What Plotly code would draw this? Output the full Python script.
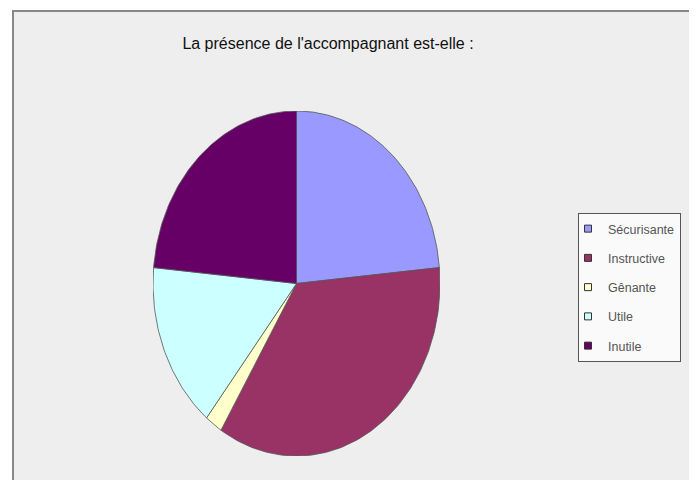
import numpy as np
import plotly.graph_objects as go

# ---- data ----
categories = ["Sécurisante", "Instructive", "Gênante", "Utile", "Inutile"]
counts = [12, 18, 1, 8, 12]
colors = ["#9999FF", "#993366", "#FFFFCC", "#CCFFFF", "#660066"]
title_text = "La présence de l'accompagnant est-elle :"

# page body has an 8px margin; figure is placed at (8, 8)
OFF = 8
W, H = 697 - OFF, 480 - OFF


def px(x):
    return (x - OFF) / W


def py(y):
    return 1 - (y - OFF) / H


fig = go.Figure()

total = float(sum(counts))
cum = np.concatenate([[0.0], np.cumsum(counts)]) / total
for i, (name, col) in enumerate(zip(categories, colors)):
    a0, a1 = cum[i] * 2 * np.pi, cum[i + 1] * 2 * np.pi
    th = np.linspace(a0, a1, max(3, int((a1 - a0) / (2 * np.pi) * 360)))
    xs = np.concatenate([[0.0], np.sin(th), [0.0]])
    ys = np.concatenate([[0.0], np.cos(th), [0.0]])
    fig.add_trace(go.Scatter(
        x=xs, y=ys, mode="lines", fill="toself", fillcolor=col,
        line=dict(color="#555555", width=0.8), showlegend=False,
        hoverinfo="text", text=f"{name}: {counts[i]}"))
    fig.add_trace(go.Scatter(
        x=[None], y=[None], mode="markers", name=name,
        legendgroup=name,
        marker=dict(symbol="square", size=7, color=col,
                    line=dict(color="#333333", width=1))))

fig.update_layout(
    width=W, height=H,
    margin=dict(l=0, r=0, t=0, b=0),
    paper_bgcolor="white",
    plot_bgcolor="rgba(0,0,0,0)",
    xaxis=dict(domain=[px(153), px(440)], range=[-1, 1], visible=False, fixedrange=True),
    yaxis=dict(domain=[py(456), py(111)], range=[-1, 1], visible=False, fixedrange=True),
    title=dict(text=title_text, x=px(328), xanchor="center", y=py(43), yanchor="middle",
               yref="container", xref="container",
               font=dict(family="Liberation Sans", size=16, color="#111111")),
    legend=dict(x=px(578), y=py(213), xanchor="left", yanchor="top",
                bgcolor="#FAFAFA", bordercolor="#555555", borderwidth=1,
                font=dict(family="Liberation Sans", size=12.5, color="#555555"),
                tracegroupgap=10, itemwidth=30, traceorder="grouped",
                indentation=-11),
    shapes=[dict(type="rect", xref="paper", yref="paper",
                 x0=px(13), x1=px(693), y0=-0.05, y1=py(11),
                 fillcolor="#EEEEEE", line=dict(color="#888888", width=2), layer="below")],
    showlegend=True,
)

fig.write_html("out.html")
